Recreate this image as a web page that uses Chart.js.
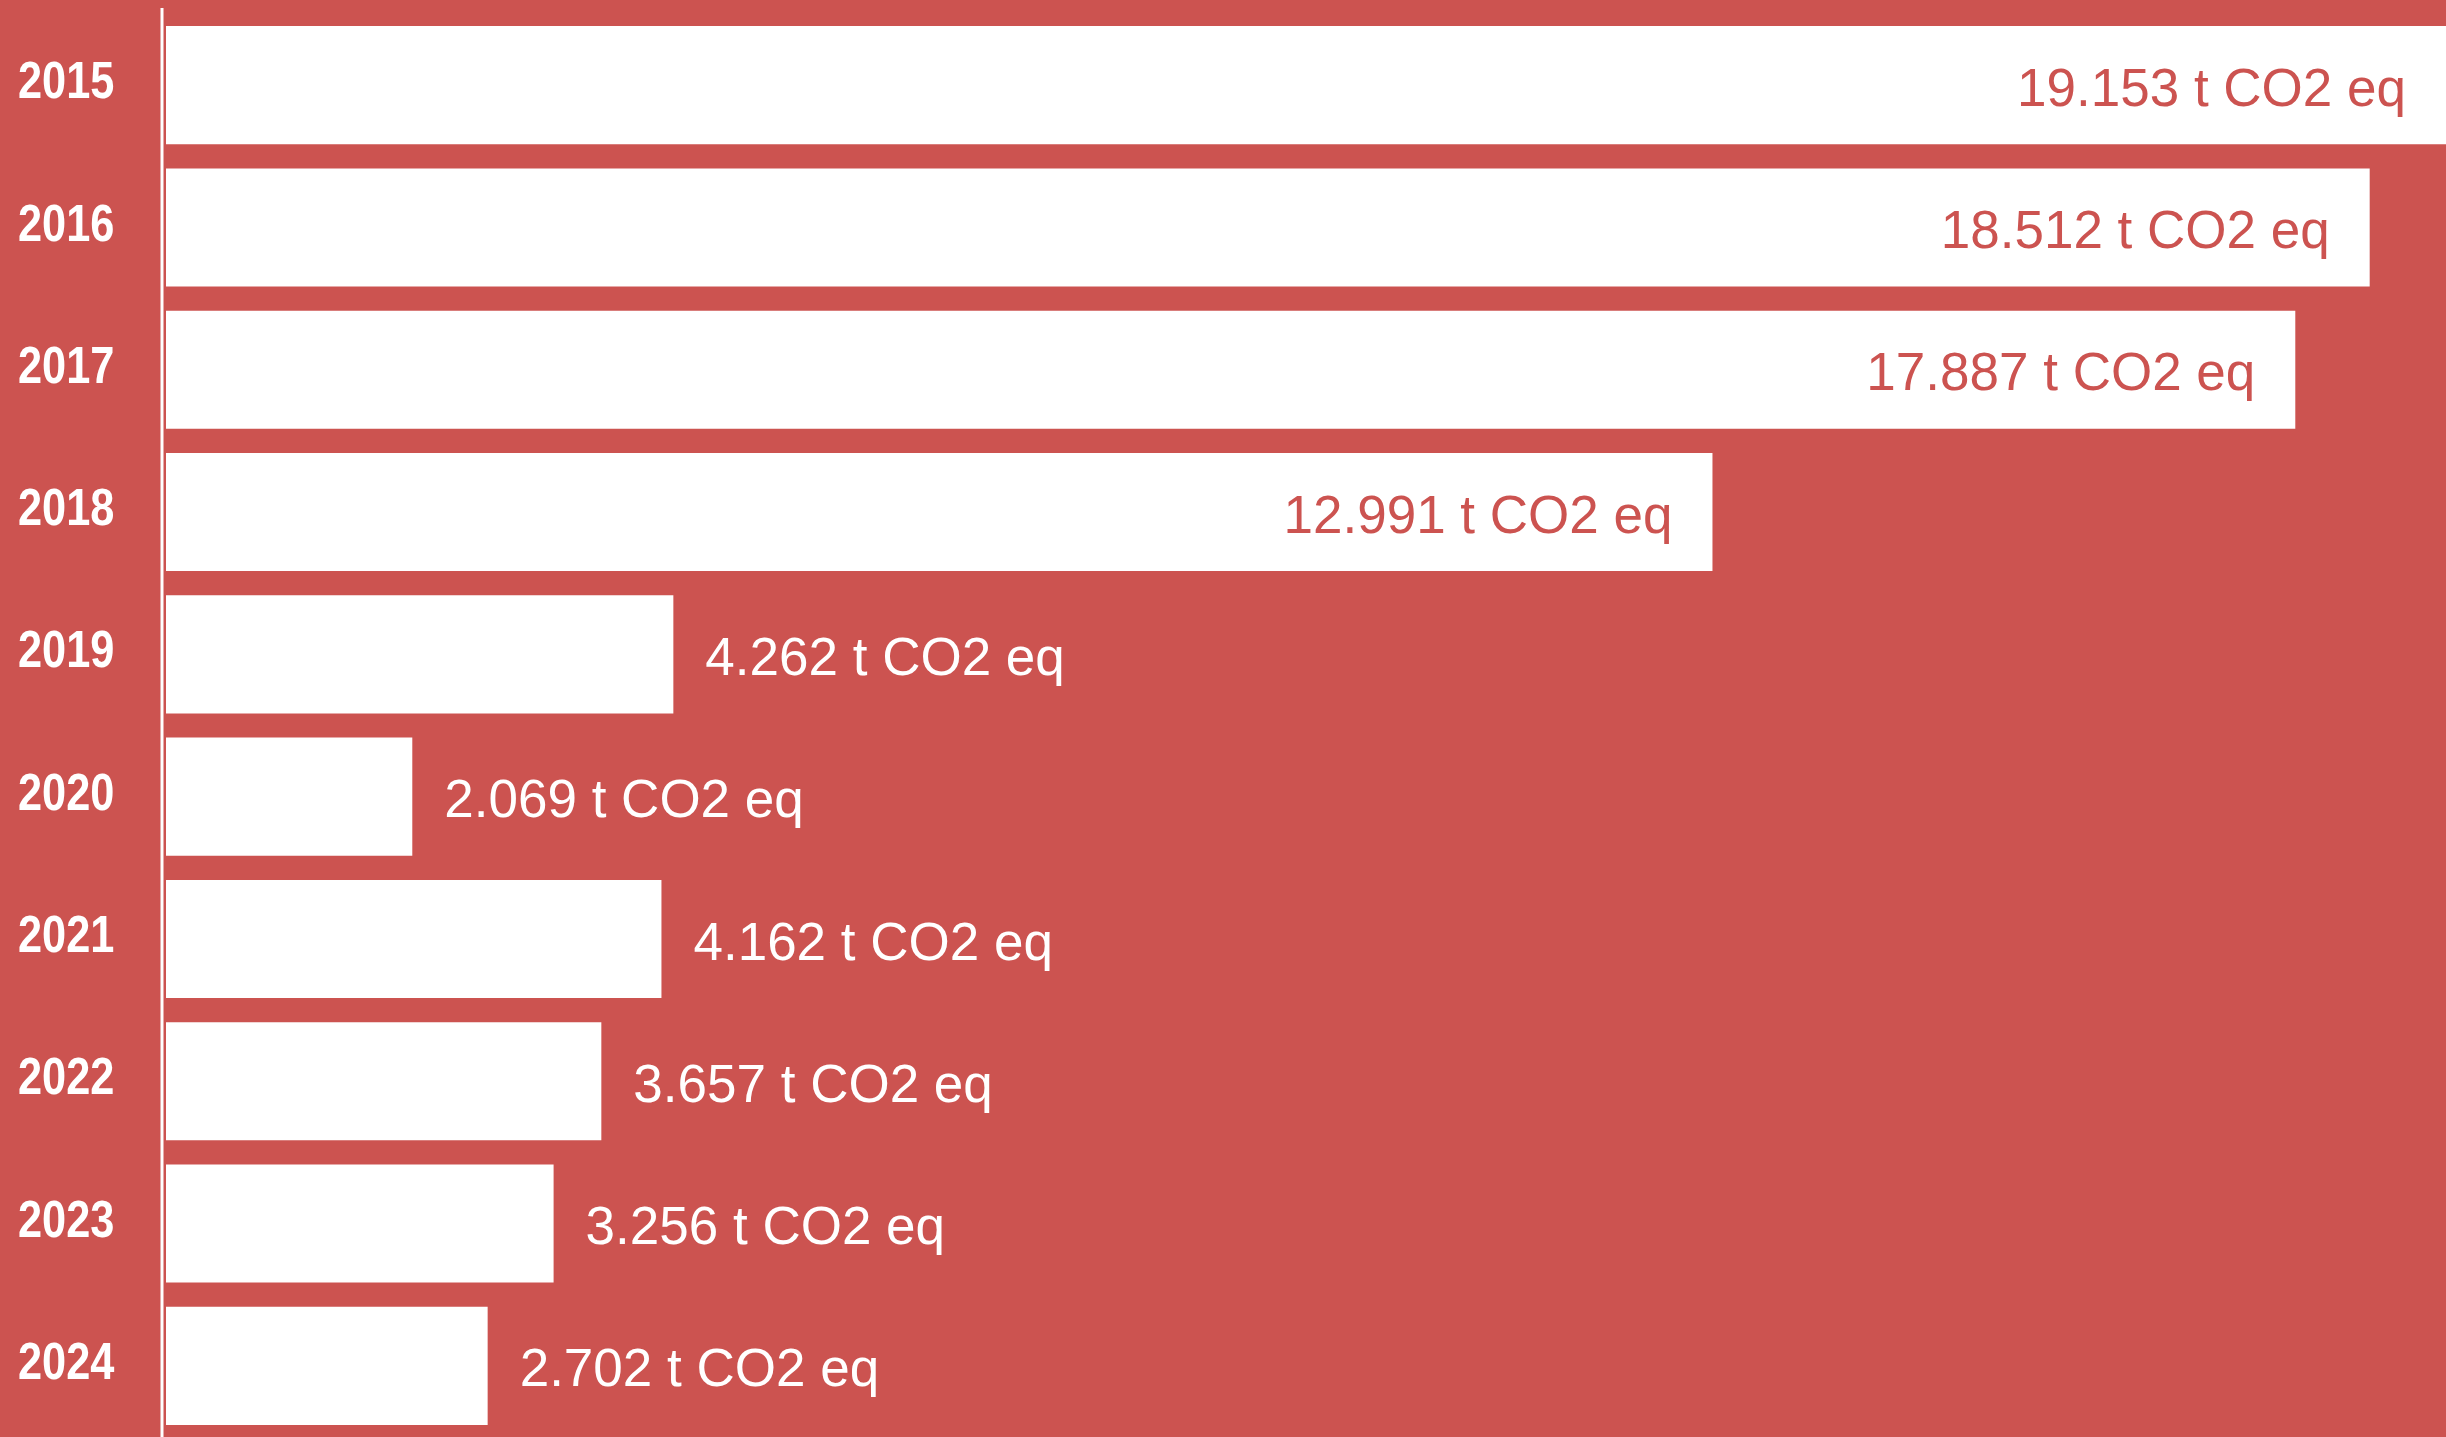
<!DOCTYPE html>
<html>
<head>
<meta charset="utf-8">
<script src="https://cdn.jsdelivr.net/npm/chart.js@4.4.1/dist/chart.umd.min.js"></script>
<style>
  html, body { margin: 0; padding: 0; background: #cc5350; overflow: hidden; }
  #wrap { width: 2446px; height: 1437px; position: relative; }
</style>
</head>
<body>
<div id="wrap"><canvas id="grafico"></canvas></div>
<script>
// datos
var anios = ['2015', '2016', '2017', '2018', '2019', '2020', '2021', '2022', '2023', '2024'];
var emisiones = [19153, 18512, 17887, 12991, 4262, 2069, 4162, 3657, 3256, 2702];
var unidad = 't CO2 eq';
var limiteDentro = 10000; // por encima, la etiqueta va dentro de la barra

var rojo = '#cc5350';
var blanco = '#ffffff';

function formatear(n) {
    return n.toString().replace(/\B(?=(\d{3})+(?!\d))/g, '.');
}

// linea vertical blanca a la izquierda de las barras
var lineaEje = {
    id: 'lineaEje',
    beforeDatasetsDraw: function(chart) {
        var ctx = chart.ctx;
        var x = chart.chartArea.left - 4;
        ctx.save();
        ctx.strokeStyle = blanco;
        ctx.lineWidth = 3;
        ctx.beginPath();
        ctx.moveTo(x, 8);
        ctx.lineTo(x, chart.height);
        ctx.stroke();
        ctx.restore();
    }
};

// años en letra condensada (no hay fuente narrow instalada, se estrecha a mano)
var etiquetasEje = {
    id: 'etiquetasEje',
    afterDraw: function(chart) {
        var ctx = chart.ctx;
        var escala = chart.scales.y;
        ctx.save();
        ctx.font = 'bold 51px "Liberation Sans", Arial, sans-serif';
        ctx.fillStyle = blanco;
        ctx.textAlign = 'left';
        ctx.textBaseline = 'middle';
        for (var i = 0; i < anios.length; i++) {
            var y = escala.getPixelForTick(i);
            ctx.save();
            ctx.translate(escala.left, y - 1);
            ctx.scale(0.85, 1);
            ctx.fillText(anios[i], 0, 0);
            ctx.restore();
        }
        ctx.restore();
    }
};

// etiquetas de valor
var etiquetas = {
    id: 'etiquetas',
    afterDatasetsDraw: function(chart) {
        var ctx = chart.ctx;
        var meta = chart.getDatasetMeta(0);
        ctx.save();
        ctx.font = '53px "Liberation Sans", Arial, sans-serif';
        ctx.textBaseline = 'middle';
        for (var i = 0; i < meta.data.length; i++) {
            var barra = meta.data[i];
            var texto = formatear(emisiones[i]) + ' ' + unidad;
            if (emisiones[i] > limiteDentro) {
                ctx.fillStyle = rojo;
                ctx.textAlign = 'right';
                ctx.fillText(texto, barra.x - 40, barra.y + 6);
            } else {
                ctx.fillStyle = blanco;
                ctx.textAlign = 'left';
                ctx.fillText(texto, barra.x + 32, barra.y + 6);
            }
        }
        ctx.restore();
    }
};

var ctx = document.getElementById('grafico');
var myChart = new Chart(ctx, {
    type: 'bar',
    data: {
        labels: anios,
        datasets: [{
            data: emisiones,
            backgroundColor: blanco,
            borderWidth: 0,
            barPercentage: 0.83,
            categoryPercentage: 1
        }]
    },
    options: {
        indexAxis: 'y',
        responsive: true,
        maintainAspectRatio: false,
        animation: false,
        events: [],
        layout: { padding: { top: 14, left: 18, right: 0, bottom: 0 } },
        plugins: {
            legend: { display: false },
            tooltip: { enabled: false }
        },
        scales: {
            x: {
                display: false,
                min: 0,
                max: 19153
            },
            y: {
                grid: { display: false },
                border: { display: false },
                ticks: { display: false },
                afterFit: function(scale) {
                    scale.width = 148;
                    scale.paddingTop = 0;
                    scale.paddingBottom = 0;
                }
            }
        }
    },
    plugins: [lineaEje, etiquetas, etiquetasEje]
});
</script>
</body>
</html>
